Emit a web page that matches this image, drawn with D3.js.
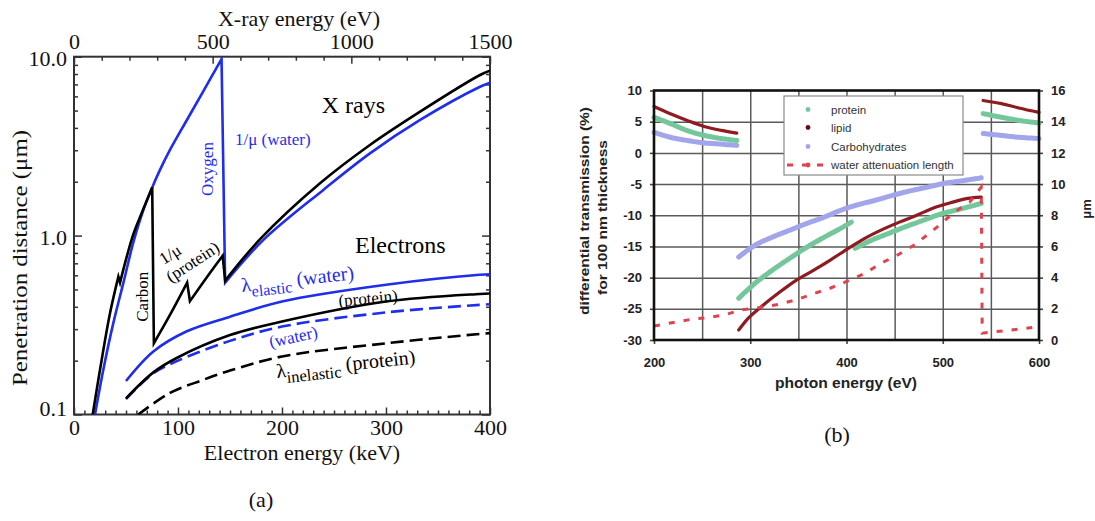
<!DOCTYPE html>
<html><head><meta charset="utf-8">
<script src="https://cdn.jsdelivr.net/npm/d3@7"></script>
<style>body{margin:0;background:#fff}svg{display:block}</style>
</head><body>
<svg id="chart" width="1095" height="521"></svg>
<script>
// ================= Panel (a) data =================
const xrayEnergyTicks = [0, 500, 1000, 1500];          // eV (top axis)
const electronEnergyTicks = [0, 100, 200, 300, 400];   // keV (bottom axis)
const penetrationTicks = [0.1, 1, 10];                  // um (log axis)

// 1/mu (water), [eV, um], split at the oxygen edge
const muWaterPre = [[75.7,0.1],[105.7,0.178],[141.7,0.324],[177.8,0.542],[213.9,0.915],[250,1.39],[282,1.86],[310,2.33],[346,3.01],[406,4.4],[466,6.4],[532,9.7]];
const muWaterPost = [[545,0.546],[683,0.946],[899,1.80],[1067,2.88],[1248,4.43],[1464,6.79],[1500,7.16]];
// 1/mu (protein), [eV, um], split at S, C, N and O edges
const muProtein1 = [[67.4,0.1],[93.8,0.178],[129.8,0.368],[160,0.59]];
const muProtein2 = [[166,0.546],[190,0.76],[214,1.02],[250,1.41],[282,1.86]];
const muProtein3 = [[288,0.25],[346,0.36],[408,0.546]];
const muProtein4 = [[418,0.43],[490,0.617],[536,0.771]];
const muProtein5 = [[545,0.56],[671,0.955],[887,1.96],[1067,3.21],[1248,4.93],[1464,7.9],[1500,8.35]];
// electron mean free paths, [keV, um]
const elasticWater = [[50,0.154],[76.3,0.225],[108,0.291],[150,0.352],[200,0.428],[300,0.531],[390,0.604],[400,0.608]];
const elasticProtein = [[50,0.123],[76.3,0.172],[98.7,0.207],[150,0.278],[200,0.331],[300,0.428],[390,0.472],[400,0.475]];
const inelasticWater = [[50,0.122],[76.3,0.17],[100,0.2],[150,0.258],[200,0.31],[300,0.372],[390,0.41],[400,0.413]];
const inelasticProtein = [[61.8,0.1],[92.3,0.132],[124,0.156],[150,0.176],[200,0.211],[300,0.25],[390,0.282],[400,0.285]];

// ================= Panel (b) data =================
const photonTicks = [200, 300, 400, 500, 600];
const photonGrid = [250, 300, 350, 400, 450, 500, 550];
const diffTicks = [-30, -25, -20, -15, -10, -5, 0, 5, 10];
const umTicks = [0, 2, 4, 6, 8, 10, 12, 14, 16];
const legendNames = ["protein", "lipid", "Carbohydrates", "water attenuation length"];

// differential transmission (%), [eV, %]
const proteinSeg1 = [[200,5.7],[217,4.7],[234,3.6],[252,2.8],[270,2.3],[286,2.0]];
const proteinSeg2 = [[288,-23.3],[305,-20.9],[323,-18.8],[341,-16.9],[359,-15.1],[377,-13.5],[394,-12.1],[405,-11.1]];
const proteinSeg3 = [[409,-15.3],[426,-14],[444,-12.9],[462,-11.8],[480,-10.8],[498,-9.8],[516,-9.1],[540,-8.1]];
const proteinSeg4 = [[542,6.3],[561,5.7],[579,5.2],[600,4.8]];
const lipidSeg1 = [[200,7.44],[217,6.27],[234.5,5.2],[252,4.24],[270,3.6],[286,3.17]];
const lipidSeg2 = [[288,-28.4],[298,-26.5],[312,-24.6],[330,-22.4],[348,-20.4],[366,-18.8],[384,-17.1],[402,-15.3],[419,-13.7],[437,-12.3],[455,-11.1],[473,-10],[491,-8.8],[508,-8],[526,-7.3],[540,-7.1]];
const lipidSeg3 = [[542,8.4],[561,7.9],[579,7.2],[600,6.5]];
const carbSeg1 = [[200,3.3],[217,2.5],[234,2.0],[252,1.6],[270,1.4],[286,1.2]];
const carbSeg2 = [[288,-16.7],[305,-14.8],[323,-13.5],[341,-12.4],[359,-11.3],[377,-10.3],[394,-9.2],[412,-8.3],[430,-7.6],[448,-6.8],[466,-6.1],[484,-5.5],[501,-4.9],[519,-4.5],[540,-4.0]];
const carbSeg3 = [[542,3.1],[561,2.8],[579,2.5],[600,2.3]];
// water attenuation length (um, right axis), [eV, um]
const waterAttenuation = [[200,0.9],[220,1.12],[238,1.32],[256,1.44],[273,1.6],[290,1.92],[309,2.08],[329,2.28],[347,2.56],[365,2.96],[383,3.32],[402,3.8],[418,4.24],[436,4.92],[454,5.48],[470,6.08],[486,6.84],[498,7.44],[512,8.2],[528,8.84],[540,9.8],[541,0.44],[552,0.52],[571,0.64],[593,0.8]];

// ================= drawing =================
const svg = d3.select("#chart");
svg.append("rect").attr("width",1095).attr("height",521).attr("fill","#fff");
const serif = "'Liberation Serif','Times New Roman',serif";
const sans = "'Liberation Sans',Arial,sans-serif";
const BLUE = "#1f2ded";

// ---------- Panel (a) ----------
const A = {l:74, r:490, t:56.7, b:414.5};
const xE = d3.scaleLinear().domain([0,400]).range([A.l,A.r]);
const xX = d3.scaleLinear().domain([0,1500]).range([A.l,A.r]);
const yA = d3.scaleLog().domain([0.1,10]).range([A.b,A.t]);

const minorKeV = d3.range(0,401,10).filter(v => v % 100 !== 0);
const minorEV = d3.range(0,1501,100).filter(v => v % 500 !== 0);
const minorLog = [0.2,0.3,0.4,0.5,0.6,0.7,0.8,0.9,2,3,4,5,6,7,8,9];

function styleTicks(g){
  g.select(".domain").remove();
  g.selectAll(".tick line").attr("stroke","#333").attr("stroke-width",1.5);
  g.selectAll(".tick text").attr("font-family",serif).attr("font-size",22).attr("fill","#111");
}
const gA = svg.append("g");
// bottom
gA.append("g").attr("transform",`translate(0,${A.b})`)
  .call(d3.axisBottom(xE).tickValues(electronEnergyTicks).tickSize(-7).tickPadding(5).tickFormat(d3.format("d"))).call(styleTicks);
gA.append("g").attr("transform",`translate(0,${A.b})`)
  .call(d3.axisBottom(xE).tickValues(minorKeV).tickSize(-4).tickFormat("")).call(styleTicks);
// top
gA.append("g").attr("transform",`translate(0,${A.t})`)
  .call(d3.axisTop(xX).tickValues(xrayEnergyTicks).tickSize(-7).tickPadding(7.5).tickFormat(d3.format("d"))).call(styleTicks);
gA.append("g").attr("transform",`translate(0,${A.t})`)
  .call(d3.axisTop(xX).tickValues(minorEV).tickSize(-4).tickFormat("")).call(styleTicks);
// left
const leftAx = gA.append("g").attr("transform",`translate(${A.l},0)`)
  .call(d3.axisLeft(yA).tickValues(penetrationTicks).tickSize(-8).tickPadding(7).tickFormat(d3.format(".1f"))).call(styleTicks);
leftAx.selectAll(".tick text").attr("dy", d => d === 10 ? "0.38em" : d === 1 ? "0.42em" : "0.05em");
gA.append("g").attr("transform",`translate(${A.l},0)`)
  .call(d3.axisLeft(yA).tickValues(minorLog).tickSize(-4).tickFormat("")).call(styleTicks);
// right
gA.append("g").attr("transform",`translate(${A.r},0)`)
  .call(d3.axisRight(yA).tickValues(penetrationTicks).tickSize(-8).tickFormat("")).call(styleTicks);
gA.append("g").attr("transform",`translate(${A.r},0)`)
  .call(d3.axisRight(yA).tickValues(minorLog).tickSize(-4).tickFormat("")).call(styleTicks);
// frame
gA.append("rect").attr("x",A.l).attr("y",A.t).attr("width",A.r-A.l).attr("height",A.b-A.t)
  .attr("fill","none").attr("stroke","#333").attr("stroke-width",2);

// clip
svg.append("clipPath").attr("id","clipA").append("rect")
  .attr("x",A.l).attr("y",A.t).attr("width",A.r-A.l).attr("height",A.b-A.t);
const curvesA = gA.append("g").attr("clip-path","url(#clipA)");

function joinedPath(segs, xs, ys){
  const line = d3.line().x(p => xs(p[0])).y(p => ys(p[1])).curve(d3.curveCatmullRom.alpha(0.5));
  return segs.map((s,i) => { const d = line(s); return i ? "L" + d.slice(1) : d; }).join("");
}
function addCurve(g, segs, xs, ys, color, dash, width){
  g.append("path").attr("d", joinedPath(segs, xs, ys))
    .attr("fill","none").attr("stroke",color).attr("stroke-width",width || 2.6)
    .attr("stroke-linejoin","miter").attr("stroke-dasharray", dash || null);
}
addCurve(curvesA, [muWaterPre, muWaterPost], xX, yA, BLUE);
addCurve(curvesA, [muProtein1, muProtein2, muProtein3, muProtein4, muProtein5], xX, yA, "#000");
addCurve(curvesA, [elasticWater], xE, yA, BLUE);
addCurve(curvesA, [inelasticWater], xE, yA, BLUE, "13,6");
addCurve(curvesA, [elasticProtein], xE, yA, "#000");
addCurve(curvesA, [inelasticProtein], xE, yA, "#000", "13,6");

// annotations (a)
function txt(g, str, x, y, size, color, opts){
  opts = opts || {};
  const t = g.append("text").attr("font-family", opts.font || serif).attr("font-size", size)
    .attr("fill", color).attr("text-anchor", opts.anchor || "start")
    .attr("transform", `translate(${x},${y})` + (opts.rot ? ` rotate(${opts.rot})` : ""));
  if (opts.dy) t.attr("dy", opts.dy);
  if (opts.weight) t.attr("font-weight", opts.weight);
  if (opts.len) t.attr("textLength", opts.len).attr("lengthAdjust","spacingAndGlyphs");
  t.text(str);
  return t;
}
txt(gA, "X rays", 321.7, 113, 24, "#000");
txt(gA, "Electrons", 355, 253, 24, "#000");
txt(gA, "1/\u03bc (water)", 235, 145, 17, BLUE);
txt(gA, "Oxygen", 212.5, 169, 17, BLUE, {anchor:"middle", rot:-90});
txt(gA, "Carbon", 147.5, 296.7, 17, "#000", {anchor:"middle", rot:-90});
txt(gA, "1/\u03bc", 170, 254, 17, "#000", {anchor:"middle", rot:-33, dy:"0.35em"});
txt(gA, "(protein)", 192.5, 261.7, 17, "#000", {anchor:"middle", rot:-33, dy:"0.35em"});
txt(gA, "(protein)", 368, 298, 17, "#000", {anchor:"middle", rot:-5, dy:"0.35em"});
txt(gA, "(water)", 293.3, 336.7, 17, BLUE, {anchor:"middle", rot:-12, dy:"0.35em"});
function lambdaLabel(g, sub, rest, x, y, rot, color, subSize){
  const t = g.append("text").attr("font-family",serif).attr("fill",color)
    .attr("transform",`translate(${x},${y}) rotate(${rot})`);
  t.append("tspan").attr("font-size",20).text("\u03bb");
  t.append("tspan").attr("font-size",subSize).attr("dy",6).text(sub);
  t.append("tspan").attr("font-size",20).attr("dy",-6).text("\u00a0" + rest);
}
lambdaLabel(gA, "elastic", "(water)", 242, 292, -6.5, BLUE, 16);
lambdaLabel(gA, "inelastic", "(protein)", 277, 378, -6, "#000", 16.5);

// axis titles (a)
txt(gA, "X-ray energy (eV)", 299, 26, 22, "#111", {anchor:"middle"});
txt(gA, "Electron energy (keV)", 302, 459.5, 22, "#111", {anchor:"middle"});
txt(gA, "Penetration distance (\u03bcm)", 27, 258, 22, "#111", {anchor:"middle", rot:-90, len:256});
txt(svg, "(a)", 261, 507, 22, "#111", {anchor:"middle"});

// ---------- Panel (b) ----------
const B = {l:654, r:1039, t:90.5, b:340};
const xB = d3.scaleLinear().domain([200,600]).range([B.l,B.r]);
const yB = d3.scaleLinear().domain([-30,10]).range([B.b,B.t]);
const yB2 = d3.scaleLinear().domain([0,16]).range([B.b,B.t]);
const gB = svg.append("g");

function styleB(g){
  g.select(".domain").remove();
  g.selectAll(".tick line").attr("stroke","#444").attr("stroke-width",1.6);
  g.selectAll(".tick text").attr("font-family",sans).attr("font-weight","bold")
    .attr("font-size",13).attr("fill","#222");
}
// grid
gB.append("g").attr("transform",`translate(0,${B.b})`)
  .call(d3.axisBottom(xB).tickValues(photonGrid).tickSize(-(B.b-B.t)).tickFormat("")).call(styleB)
  .selectAll(".tick line").attr("stroke","#5a5a5a").attr("stroke-width",1.5);
gB.append("g").attr("transform",`translate(${B.l},0)`)
  .call(d3.axisLeft(yB).tickValues(diffTicks.slice(1,-1)).tickSize(-(B.r-B.l)).tickFormat("")).call(styleB)
  .selectAll(".tick line").attr("stroke","#5a5a5a").attr("stroke-width",1.5);
// axes labels
gB.append("g").attr("transform",`translate(0,${B.b})`)
  .call(d3.axisBottom(xB).tickValues(photonTicks).tickSize(4).tickPadding(14).tickFormat(d => String(d))).call(styleB);
gB.append("g").attr("transform",`translate(${B.l},0)`)
  .call(d3.axisLeft(yB).tickValues(diffTicks).tickSize(4).tickPadding(8).tickFormat(d => String(d))).call(styleB);
gB.append("g").attr("transform",`translate(${B.r},0)`)
  .call(d3.axisRight(yB2).tickValues(umTicks).tickSize(4).tickPadding(8).tickFormat(d => String(d))).call(styleB);

// series
const lineB = d3.line().x(p => xB(p[0])).y(p => yB(p[1])).curve(d3.curveMonotoneX);
const lineW = d3.line().x(p => xB(p[0])).y(p => yB2(p[1]));
const PROT = "#74c79a", CARB = "#a2a4ec", LIPID = "#8e1b1f", WATER = "#e0434b";
[[carbSeg1,carbSeg2,carbSeg3], [proteinSeg1,proteinSeg2,proteinSeg3,proteinSeg4]].forEach((segs,i) => {
  segs.forEach(s => gB.append("path").attr("d", lineB(s)).attr("fill","none")
    .attr("stroke", i ? PROT : CARB).attr("stroke-width",5).attr("stroke-linecap","round")
    .attr("stroke-dasharray","3,1"));
});
[lipidSeg1, lipidSeg2, lipidSeg3].forEach(s => gB.append("path").attr("d", lineB(s)).attr("fill","none")
  .attr("stroke", LIPID).attr("stroke-width",3.2).attr("stroke-linecap","round"));
gB.append("path").attr("d", lineW(waterAttenuation)).attr("fill","none")
  .attr("stroke", WATER).attr("stroke-width",3).attr("stroke-dasharray","6,9");

// frame
gB.append("rect").attr("x",B.l).attr("y",B.t).attr("width",B.r-B.l).attr("height",B.b-B.t)
  .attr("fill","none").attr("stroke","#111").attr("stroke-width",2.6);

// legend
const lg = gB.append("g");
lg.append("rect").attr("x",784).attr("y",96).attr("width",179).attr("height",79)
  .attr("fill","#fff").attr("stroke","#8a8a8a").attr("stroke-width",1.2);
const legendColors = [PROT, "#6a0c10", CARB, WATER];
const legendY = [109.5, 127.5, 146.5, 165];
legendNames.forEach((n,i) => {
  if (i === 3) {
    lg.append("line").attr("x1",787).attr("x2",829).attr("y1",legendY[i]).attr("y2",legendY[i])
      .attr("stroke",WATER).attr("stroke-width",3).attr("stroke-dasharray","6,9");
  }
  lg.append("circle").attr("cx",808).attr("cy",legendY[i]).attr("r",2.4).attr("fill",legendColors[i]);
  lg.append("text").attr("x",831).attr("y",legendY[i]).attr("dy","0.35em")
    .attr("font-family",sans).attr("font-size",11.5).attr("fill","#333").text(n);
});

// titles (b)
txt(gB, "photon energy (eV)", 846, 388, 14, "#222", {anchor:"middle", font:sans, weight:"bold", len:142});
txt(gB, "differential transmission (%)", 589, 211, 12, "#222", {anchor:"middle", rot:-90, font:sans, weight:"bold", len:208});
txt(gB, "for 100 nm thickness", 606.5, 217.5, 12, "#222", {anchor:"middle", rot:-90, font:sans, weight:"bold", len:155});
txt(gB, "\u03bcm", 1091, 209, 13, "#222", {anchor:"middle", rot:-90, font:sans, weight:"bold"});
txt(svg, "(b)", 837, 442, 22, "#111", {anchor:"middle"});
</script>
</body></html>
